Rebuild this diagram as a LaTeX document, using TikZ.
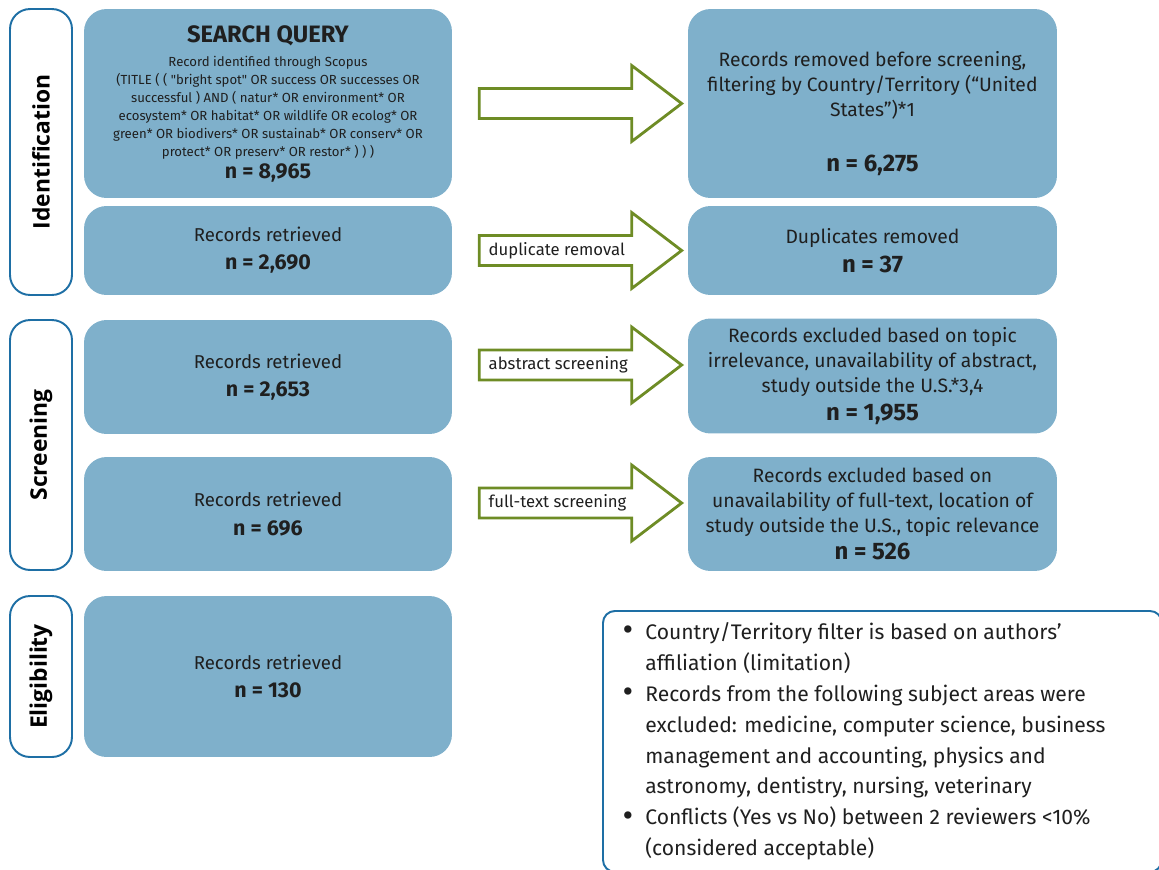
\documentclass[tikz,border=0pt]{standalone}
\usepackage{fontspec}
\setmainfont{Fira Sans}
\newfontfamily\sidefont{Open Sans}
\newfontfamily\queryfont{Fira Sans}[Ligatures=TeXOff]
\usetikzlibrary{calc}

\definecolor{boxblue}{HTML}{7FB0CB}
\definecolor{frameblue}{HTML}{1E6FA5}
\definecolor{arrgreen}{HTML}{6E8C25}
\definecolor{txt}{HTML}{1F1F1F}

\newcommand{\cnt}[1]{{\fontsize{12.2}{14}\selectfont\bfseries #1}}
\newcommand{\bigcnt}[1]{{\fontsize{13.6}{15}\selectfont\bfseries #1}}
\newcommand{\bul}{\makebox[0.44cm][l]{\raisebox{0.02em}{\fontsize{15}{15}\selectfont\bfseries\textbullet}}}
\newcommand{\ind}{\hspace*{0.44cm}}

\begin{document}
\begin{tikzpicture}[
	x=0.02cm, y=-0.02cm,
	stage/.style={ draw=frameblue, line width=1.1pt, fill=white, rounded corners=0.4cm, rotate=90, minimum height=1.24cm, inner sep=0pt, text=black, font=\sidefont\fontsize{13}{15}\selectfont\bfseries },
	recbox/.style={ fill=boxblue, rounded corners=0.45cm, minimum width=7.36cm, inner sep=0pt, align=center, text=txt, font=\fontsize{10.6}{16}\selectfont },
	exbox/.style={ recbox, minimum width=7.38cm, font=\fontsize{11}{14.2}\selectfont },
	fatarrow/.style={ draw=arrgreen, line width=1.6pt, fill=white, line join=miter },
	arrowlabel/.style={ inner sep=0pt, text=txt, font=\fontsize{9.5}{11}\selectfont }
]
\path[use as bounding box] (0,0) rectangle (1159,869);

% stages
\node at (41,152) (idside) [stage, minimum width=5.72cm] {Identification};
\node at (41,445) (scside) [stage, minimum width=5cm] {Screening};
\node at (41,676.5) (elside) [stage, minimum width=3.22cm] {Eligibility};

% records kept
\node at (268,103.5) (query) [recbox, minimum height=3.78cm, font=\queryfont\fontsize{7.5}{10.2}\selectfont] {%
	{\fontsize{13.5}{15}\selectfont\bfseries SEARCH QUERY}\\[4pt]
	Record identified through Scopus\\
	(TITLE ( ( "bright spot" OR success OR successes OR\\
	successful ) AND ( natur* OR environment* OR\\
	ecosystem* OR habitat* OR wildlife OR ecolog* OR\\
	green* OR biodivers* OR sustainab* OR conserv* OR\\
	protect* OR preserv* OR restor* ) ) )\\[2pt]
	\cnt{n = 8,965}};
\node at (268,250.5) (retr1) [recbox, minimum height=1.78cm] {Records retrieved\\\cnt{n = 2,690}};
\node at (268,377) (retr2) [recbox, minimum height=2.28cm] {Records retrieved\\\cnt{n = 2,653}};
\node at (268,514) (retr3) [recbox, minimum height=2.28cm] {Records retrieved\\\cnt{n = 696}};
\node at (268,676.5) (retr4) [recbox, minimum height=3.22cm] {Records retrieved\\\cnt{n = 130}};

% records removed
\node at (872.5,103.5) (removed) [exbox, minimum height=3.78cm] {%
	\rule{0pt}{20pt}Records removed before screening,\\
	filtering by Country/Territory (“United\\
	States”)*1\\[17pt]
	\bigcnt{n = 6,275}};
\node at (872.5,250.5) (dupl) [exbox, minimum height=1.78cm] {Duplicates removed\\[2pt]\bigcnt{n = 37}};
\node at (872.5,376) (excl1) [exbox, minimum height=2.3cm] {%
	Records excluded based on topic\\
	irrelevance, unavailability of abstract,\\
	study outside the U.S.*3,4\\[1.5pt]
	\bigcnt{n = 1,955}};
\node at (872.5,514) (excl2) [exbox, minimum height=2.28cm] {%
	Records excluded based on\\
	unavailability of full-text, location of\\
	study outside the U.S., topic relevance\\[1pt]
	\bigcnt{n = 526}};

% block arrows
\foreach \from/\to/\dy/\txt in {query/removed/0/{}, retr1/dupl/0/{duplicate removal},
		retr2/excl1/-12/{abstract screening}, retr3/excl2/-11/{full-text screening}}
	\draw[fatarrow] let \p1=($(\from.east)+(27,\dy)$), \p2=($(\to.west)+(-6,0)$) in
		($(\p1)+(0,-15)$) -- ($(\x2,\y1)+(-50,-15)$) -- ($(\x2,\y1)+(-50,-38)$) -- (\x2,\y1)
		-- ($(\x2,\y1)+(-50,38)$) -- ($(\x2,\y1)+(-50,15)$) -- ($(\p1)+(0,15)$) -- cycle
		($(\p1)+(8,0)$) node[arrowlabel, anchor=west] {\txt};

% notes
\node at (602,610) (notes) [anchor=north west, draw=frameblue, line width=1.1pt, rounded corners=0.24cm, minimum width=11.18cm, minimum height=5.22cm] {};
\node at ($(notes.north west)+(21,12)$) (notetxt) [anchor=north west, inner sep=0pt, align=left, text=txt, font=\fontsize{12}{17.6}\selectfont] {%
	\bul Country/Territory filter is based on authors’\\
	\ind affiliation (limitation)\\
	\bul Records from the following subject areas were\\
	\ind excluded: medicine, computer science, business\\
	\ind management and accounting, physics and\\
	\ind astronomy, dentistry, nursing, veterinary\\
	\bul Conflicts (Yes vs No) between 2 reviewers <10\%\\
	\ind (considered acceptable)};

\end{tikzpicture}
\end{document}
